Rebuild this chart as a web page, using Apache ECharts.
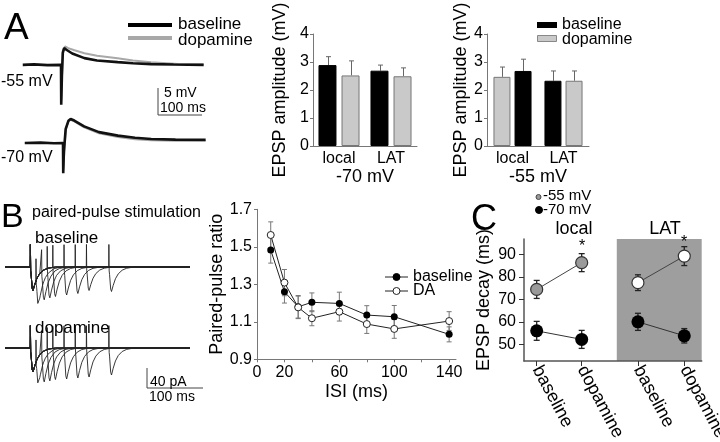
<!DOCTYPE html>
<html><head><meta charset="utf-8">
<script src="https://cdn.jsdelivr.net/npm/echarts@6/dist/echarts.min.js"></script>
<style>html,body{margin:0;padding:0;background:#fff}#c{width:720px;height:442px}</style>
</head><body><div id="c"></div>
<script>
// ---------- Panel A: example EPSP traces (keypoints: [ms, mV]) ----------
const traceA55Base = [[-85,0],[-60,0.08],[-30,-0.05],[0,0],[0.5,-7.4],[2,-2],[4,2.2],[7,3.1],[12,2.8],[25,2.1],[52,1.24],[80,0.8],[126,0.5],[160,0.3],[200,0.13],[250,0.05],[317,0]];
const traceA55DA   = [[0,0],[0.5,-6.5],[4,2.6],[9,3.4],[16,3.1],[30,2.7],[52,2.16],[80,1.7],[126,1.2],[160,0.8],[200,0.5],[260,0.15],[317,0.05]];
const traceA70Base = [[-85,0],[-50,0.05],[-20,-0.05],[0,0],[0.5,-5.6],[2,-1.5],[6,2.6],[12,4.1],[17,4.44],[25,4.15],[47,3.07],[80,2.0],[122,1.35],[160,0.95],[196,0.74],[250,0.62],[317,0.6]];
const traceA70DA   = [[0,0],[0.5,-5],[6,2.4],[12,4.0],[17,4.3],[25,4.0],[47,2.9],[80,1.8],[122,1.1],[160,0.7],[196,0.5],[250,0.4],[317,0.35]];

// ---------- Panel A: EPSP amplitude bars ----------
const ampCats = ['local', 'LAT'];
const amp70Base = [2.89, 2.69];
const amp70BaseErr = [0.30, 0.20];
const amp70DA = [2.52, 2.49];
const amp70DAErr = [0.52, 0.30];
const amp55DA = [2.47, 2.33];
const amp55DAErr = [0.35, 0.35];
const amp55Base = [2.68, 2.33];
const amp55BaseErr = [0.42, 0.35];
const ampTicks = [0, 1, 2, 3, 4];

// ---------- Panel B: paired-pulse EPSC sweeps ----------
const isi = [10, 20, 30, 40, 60, 80, 100, 140];
const epscShape = [[0,0],[1.5,-0.3],[3.5,-0.9],[5,-1],[8,-0.75],[12,-0.48],[17,-0.28],[24,-0.13],[32,-0.05],[45,0]];
const artShape = [[0,0],[0.3,1],[0.8,0]];
const artHeight = 48;          // pA
const sweepBase1 = 47;         // first EPSC, pA
const sweepBase2 = [59, 60, 60, 59, 56, 53, 47, 49];
const sweepDA1 = 48;
const sweepDA2 = [55, 62, 64, 63, 62, 60, 58, 54];

// ---------- Panel B: paired-pulse ratio ----------
const pprBase = [1.483, 1.26, 1.18, 1.204, 1.198, 1.136, 1.127, 1.033];
const pprBaseErr = [0.07, 0.06, 0.06, 0.05, 0.06, 0.05, 0.06, 0.04];
const pprDA = [1.563, 1.309, 1.177, 1.119, 1.154, 1.088, 1.062, 1.104];
const pprDAErr = [0.07, 0.07, 0.06, 0.04, 0.05, 0.05, 0.05, 0.05];
const isiLabelTicks = [0, 20, 60, 100, 140];
const isiTicks = [0, 20, 40, 60, 80, 100, 120, 140];
const pprTicks = [0.9, 1.1, 1.3, 1.5, 1.7];

// ---------- Panel C: EPSP decay ----------
const decayCats = ['baseline', 'dopamine', 'baseline', 'dopamine'];
const decayGroup = ['local', 'local', 'LAT', 'LAT'];
const decayPos = [1, 2, 3.25, 4.28];
const decay55 = [74.4, 86.3, 77.4, 89.2];
const decay55Err = [4.0, 4.0, 3.5, 4.2];
const decay70 = [56.0, 52.2, 60.0, 53.8];
const decay70Err = [4.2, 4.0, 3.8, 3.2];
const decayTicks = [50, 60, 70, 80, 90];
const latStart = 2.78;

// ================================================================
const FONT = "'Liberation Sans', Arial, Helvetica, sans-serif";
const chart = echarts.init(document.getElementById('c'), null, {renderer: 'canvas'});

function interp(shape, t) {
  if (t < shape[0][0] || t > shape[shape.length - 1][0]) return 0;
  for (let i = 1; i < shape.length; i++) {
    if (t <= shape[i][0]) {
      const [t0, v0] = shape[i - 1], [t1, v1] = shape[i];
      return t1 === t0 ? v1 : v0 + (v1 - v0) * (t - t0) / (t1 - t0);
    }
  }
  return 0;
}
function sweep(gap, a1, a2) {
  const ts = new Set([-45, 285]);
  [0, gap].forEach(o => { epscShape.forEach(p => ts.add(o + p[0])); artShape.forEach(p => ts.add(o + p[0])); });
  return Array.from(ts).sort((a, b) => a - b).map(t => [t,
    a1 * interp(epscShape, t) + a2 * interp(epscShape, t - gap) +
    artHeight * (interp(artShape, t) + interp(artShape, t - gap))]);
}

function txt(x, y, s, size, o) {
  o = o || {};
  return {type: 'text', x: x, y: y, z: 100, style: {
    text: s, fontSize: size, fontFamily: FONT, fontWeight: o.weight || 'normal', fill: o.fill || '#000',
    align: o.align || 'left', textAlign: o.align || 'left', verticalAlign: 'middle', textVerticalAlign: 'middle'}};
}
function ln(x1, y1, x2, y2, w, c) {
  return {type: 'line', z: 100, shape: {x1, y1, x2, y2}, style: {stroke: c || '#000', lineWidth: w || 1}};
}
function circ(cx, cy, r, fill, stroke, lw) {
  return {type: 'circle', z: 100, shape: {cx, cy, r}, style: {fill, stroke: stroke || fill, lineWidth: lw || 1}};
}

function barErr(offset, color) {
  return function (params, api) {
    const p = api.coord([api.value(0), api.value(1)]);
    const t = api.coord([api.value(0), api.value(1) + api.value(2)]);
    const x = Math.round(p[0] + offset) + 0.5;
    return {type: 'group', children: [
      {type: 'line', shape: {x1: x, y1: p[1], x2: x, y2: t[1]}, style: {stroke: color, lineWidth: 1}},
      {type: 'line', shape: {x1: x - 2.5, y1: t[1], x2: x + 2.5, y2: t[1]}, style: {stroke: color, lineWidth: 1}}
    ]};
  };
}
function symErr(cap, color, lw) {
  return function (params, api) {
    const lo = api.coord([api.value(0), api.value(1) - api.value(2)]);
    const hi = api.coord([api.value(0), api.value(1) + api.value(2)]);
    const x = lo[0];
    return {type: 'group', children: [
      {type: 'line', shape: {x1: x, y1: lo[1], x2: x, y2: hi[1]}, style: {stroke: color, lineWidth: lw}},
      {type: 'line', shape: {x1: x - cap, y1: lo[1], x2: x + cap, y2: lo[1]}, style: {stroke: color, lineWidth: lw}},
      {type: 'line', shape: {x1: x - cap, y1: hi[1], x2: x + cap, y2: hi[1]}, style: {stroke: color, lineWidth: lw}}
    ]};
  };
}

const G = (l, t, w, h) => ({left: l, top: t, width: w, height: h, containLabel: false, outerBoundsMode: 'none'});
const hiddenX = (gi, mn, mx) => ({type: 'value', gridIndex: gi, min: mn, max: mx, show: false});
const hiddenY = (gi, mn, mx) => ({type: 'value', gridIndex: gi, min: mn, max: mx, show: false});
const axLine = {show: true, lineStyle: {color: '#777', width: 1}};

function ampY(gi, gap) {
  return {type: 'value', gridIndex: gi, min: 0, max: 4,
    name: 'EPSP amplitude (mV)', nameLocation: 'middle', nameRotate: 90, nameGap: gap,
    nameTextStyle: {fontSize: 18, fontFamily: FONT, color: '#000'},
    axisLine: axLine, axisTick: {show: true, length: 3, lineStyle: {color: '#777'}, customValues: ampTicks},
    axisLabel: {fontSize: 16, fontFamily: FONT, color: '#000', margin: 4, customValues: ampTicks},
    splitLine: {show: false}};
}
function ampX(gi, name) {
  return {type: 'category', gridIndex: gi, data: ampCats,
    name: name, nameLocation: 'middle', nameGap: 22,
    nameTextStyle: {fontSize: 18, fontFamily: FONT, color: '#000'},
    axisLine: axLine, axisTick: {show: false},
    axisLabel: {fontSize: 16, fontFamily: FONT, color: '#000', margin: 5}};
}

const baseSweeps = isi.map((g, i) => sweep(g, sweepBase1, sweepBase2[i]));
const daSweeps = isi.map((g, i) => sweep(g, sweepDA1, sweepDA2[i]));

const series = [];
series.push({type: 'line', xAxisIndex: 0, yAxisIndex: 0, data: traceA55DA, showSymbol: false, silent: true, z: 2, lineStyle: {color: '#a8a8a8', width: 2}});
series.push({type: 'line', xAxisIndex: 0, yAxisIndex: 0, data: traceA55Base, showSymbol: false, silent: true, z: 3, lineStyle: {color: '#111', width: 2.6}});
series.push({type: 'line', xAxisIndex: 1, yAxisIndex: 1, data: traceA70DA, showSymbol: false, silent: true, z: 2, lineStyle: {color: '#a8a8a8', width: 2}});
series.push({type: 'line', xAxisIndex: 1, yAxisIndex: 1, data: traceA70Base, showSymbol: false, silent: true, z: 3, lineStyle: {color: '#111', width: 2.6}});
series.push({type: 'bar', xAxisIndex: 2, yAxisIndex: 2, data: amp70Base, barWidth: 18, barGap: '28%', itemStyle: {color: '#000', borderColor: '#000', borderWidth: 1}, z: 2});
series.push({type: 'bar', xAxisIndex: 2, yAxisIndex: 2, data: amp70DA, barWidth: 18, barGap: '28%', itemStyle: {color: '#c9c9c9', borderColor: '#777', borderWidth: 1}, z: 2});
series.push({type: 'custom', xAxisIndex: 2, yAxisIndex: 2, data: ampCats.map((c, i) => [i, amp70Base[i], amp70BaseErr[i]]), renderItem: barErr(-11.5, '#666'), z: 1});
series.push({type: 'custom', xAxisIndex: 2, yAxisIndex: 2, data: ampCats.map((c, i) => [i, amp70DA[i], amp70DAErr[i]]), renderItem: barErr(11.5, '#666'), z: 1});
series.push({type: 'bar', xAxisIndex: 3, yAxisIndex: 3, data: amp55DA.map((v, i) => ({value: v, itemStyle: i === 0 ? {color: '#c9c9c9', borderColor: '#777'} : {color: '#000', borderColor: '#000'}})), barWidth: 17, barGap: '24%', itemStyle: {borderWidth: 1}, z: 2});
series.push({type: 'bar', xAxisIndex: 3, yAxisIndex: 3, data: amp55Base.map((v, i) => ({value: v, itemStyle: i === 0 ? {color: '#000', borderColor: '#000'} : {color: '#c9c9c9', borderColor: '#777'}})), barWidth: 17, barGap: '24%', itemStyle: {borderWidth: 1}, z: 2});
series.push({type: 'custom', xAxisIndex: 3, yAxisIndex: 3, data: ampCats.map((c, i) => [i, amp55DA[i], amp55DAErr[i]]), renderItem: barErr(-10.5, '#666'), z: 1});
series.push({type: 'custom', xAxisIndex: 3, yAxisIndex: 3, data: ampCats.map((c, i) => [i, amp55Base[i], amp55BaseErr[i]]), renderItem: barErr(10.5, '#666'), z: 1});
baseSweeps.forEach(d => series.push({type: 'line', xAxisIndex: 4, yAxisIndex: 4, data: d, showSymbol: false, silent: true, lineStyle: {color: '#222', width: 0.9}}));
daSweeps.forEach(d => series.push({type: 'line', xAxisIndex: 5, yAxisIndex: 5, data: d, showSymbol: false, silent: true, lineStyle: {color: '#222', width: 0.9}}));
series.push({type: 'custom', xAxisIndex: 6, yAxisIndex: 6, data: isi.map((x, i) => [x, pprBase[i], pprBaseErr[i]]), renderItem: symErr(2.5, '#777', 1), z: 1});
series.push({type: 'custom', xAxisIndex: 6, yAxisIndex: 6, data: isi.map((x, i) => [x, pprDA[i], pprDAErr[i]]), renderItem: symErr(2.5, '#777', 1), z: 1});
series.push({type: 'line', xAxisIndex: 6, yAxisIndex: 6, data: isi.map((x, i) => [x, pprBase[i]]), symbol: 'circle', symbolSize: 7, lineStyle: {color: '#222', width: 1}, itemStyle: {color: '#000'}, z: 3});
series.push({type: 'line', xAxisIndex: 6, yAxisIndex: 6, data: isi.map((x, i) => [x, pprDA[i]]), symbol: 'circle', symbolSize: 7, lineStyle: {color: '#222', width: 1}, itemStyle: {color: '#fff', borderColor: '#222', borderWidth: 1}, z: 3});
function grp(arr, g) { return decayPos.map((p, i) => decayGroup[i] === g ? [p, arr[i]] : null).filter(Boolean); }
function grpErr(arr, err, g) { return decayPos.map((p, i) => decayGroup[i] === g ? [p, arr[i], err[i]] : null).filter(Boolean); }
series.push({type: 'custom', xAxisIndex: 7, yAxisIndex: 7, data: [], renderItem: () => null,
  markArea: {silent: true, itemStyle: {color: '#9e9e9e'}, data: [[{xAxis: latStart}, {xAxis: 4.667}]]}, z: 0});
['local', 'LAT'].forEach(g => {
  series.push({type: 'custom', xAxisIndex: 7, yAxisIndex: 7, data: grpErr(decay55, decay55Err, g), renderItem: symErr(3, '#222', 1.3), z: 2});
  series.push({type: 'custom', xAxisIndex: 7, yAxisIndex: 7, data: grpErr(decay70, decay70Err, g), renderItem: symErr(3, '#222', 1.3), z: 2});
  series.push({type: 'line', xAxisIndex: 7, yAxisIndex: 7, data: grp(decay55, g), symbol: 'circle', symbolSize: 12,
    lineStyle: {color: '#444', width: 1}, itemStyle: {color: g === 'local' ? '#9a9a9a' : '#fff', borderColor: '#333', borderWidth: 1.2}, z: 3});
  series.push({type: 'line', xAxisIndex: 7, yAxisIndex: 7, data: grp(decay70, g), symbol: 'circle', symbolSize: 13,
    lineStyle: {color: '#333', width: 1}, itemStyle: {color: '#000'}, z: 3});
});

const graphic = [
  txt(4, 29, 'A', 37),
  ln(128, 25, 172, 25, 4, '#000'), txt(178, 24, 'baseline', 17),
  ln(128, 38, 172, 38, 4, '#a8a8a8'), txt(178, 40, 'dopamine', 17),
  txt(1, 82, '-55 mV', 16), txt(1, 158, '-70 mV', 16),
  ln(158, 88, 158, 115, 1, '#444'), ln(158, 115, 202, 115, 1, '#444'),
  txt(164, 93, '5 mV', 14), txt(160, 108, '100 ms', 14),
  {type: 'rect', z: 100, shape: {x: 537, y: 22, width: 20, height: 6}, style: {fill: '#000'}},
  {type: 'rect', z: 100, shape: {x: 537.5, y: 35.5, width: 19, height: 6}, style: {fill: '#c9c9c9', stroke: '#888', lineWidth: 1}},
  txt(562, 25, 'baseline', 16), txt(562, 40, 'dopamine', 16),
  txt(1, 218, 'B', 34),
  txt(32, 213, 'paired-pulse stimulation', 16),
  txt(35, 238, 'baseline', 17), txt(35, 328, 'dopamine', 17),
  ln(147, 368, 147, 388, 1, '#444'), ln(147, 388, 203, 388, 1, '#444'),
  txt(150, 382, '40 pA', 14), txt(149, 397, '100 ms', 14),
  ln(385, 277, 408, 277, 1, '#222'), circ(396.5, 277, 3.5, '#000'), txt(413, 277, 'baseline', 16),
  ln(385, 291, 408, 291, 1, '#222'), circ(396.5, 291, 3.5, '#fff', '#222', 1), txt(413, 291, 'DA', 16),
  txt(471, 220, 'C', 36),
  circ(538.5, 197, 2.5, '#999', '#444', 1), txt(543, 196, '-55 mV', 15),
  circ(539, 210, 3.5, '#000'), txt(543, 210, '-70 mV', 15),
  txt(574, 229, 'local', 18, {align: 'center'}), txt(665, 229, 'LAT', 18, {align: 'center'}),
  txt(582, 247, '*', 16, {align: 'center'}), txt(684, 243, '*', 16, {align: 'center'})
];

const option = {
  animation: false,
  textStyle: {fontFamily: FONT},
  graphic: graphic,
  grid: [
    G(22.75, 40, 180.9, 70.2),
    G(24.75, 110, 180.9, 70.2),
    G(313, 34, 104, 112),
    G(487, 34, 102, 112),
    G(5, 235, 185, 75),
    G(5, 316, 185, 75),
    G(257, 209.3, 199, 150),
    G(524, 239, 177.7, 122)
  ],
  xAxis: [
    hiddenX(0, -85, 317), hiddenX(1, -85, 317),
    ampX(2, '-70 mV'), ampX(3, '-55 mV'),
    hiddenX(4, -45, 285), hiddenX(5, -45, 285),
    {type: 'value', gridIndex: 6, min: 0, max: 145, name: 'ISI (ms)', nameLocation: 'middle', nameGap: 24,
      nameTextStyle: {fontSize: 18, fontFamily: FONT, color: '#000'},
      axisLine: axLine, axisTick: {show: true, length: 3, lineStyle: {color: '#777'}, customValues: isiTicks},
      axisLabel: {fontSize: 16, fontFamily: FONT, color: '#000', margin: 5, customValues: isiLabelTicks},
      splitLine: {show: false}},
    {type: 'value', gridIndex: 7, min: 0.718, max: 4.667, z: 10,
      axisLine: {show: true, lineStyle: {color: '#555', width: 1.5}},
      axisTick: {show: true, length: 5, lineStyle: {color: '#333'}, customValues: decayPos},
      axisLabel: {fontSize: 18, fontFamily: FONT, color: '#000', rotate: -62, margin: 6, customValues: decayPos,
        formatter: v => decayCats[decayPos.indexOf(v)] || ''},
      splitLine: {show: false}}
  ],
  yAxis: [
    hiddenY(0, -8.4, 4.6), hiddenY(1, -6.9, 6.1),
    ampY(2, 24), ampY(3, 17),
    hiddenY(4, -86, 64), hiddenY(5, -86, 64),
    {type: 'value', gridIndex: 6, min: 0.9, max: 1.7, name: 'Paired-pulse ratio', nameLocation: 'middle', nameRotate: 90, nameGap: 30,
      nameTextStyle: {fontSize: 18, fontFamily: FONT, color: '#000'},
      axisLine: axLine, axisTick: {show: true, length: 3, lineStyle: {color: '#777'}, customValues: pprTicks},
      axisLabel: {fontSize: 16, fontFamily: FONT, color: '#000', margin: 5, customValues: pprTicks, formatter: v => v.toFixed(1)},
      splitLine: {show: false}},
    {type: 'value', gridIndex: 7, min: 42.6, max: 96.8, name: 'EPSP decay (ms)', nameLocation: 'middle', nameRotate: 90, nameGap: 31,
      z: 10,
      nameTextStyle: {fontSize: 18, fontFamily: FONT, color: '#000'},
      axisLine: {show: true, lineStyle: {color: '#555', width: 1.5}},
      axisTick: {show: true, length: 5, lineStyle: {color: '#333'}, customValues: decayTicks},
      axisLabel: {fontSize: 16, fontFamily: FONT, color: '#000', margin: 8, customValues: decayTicks},
      splitLine: {show: false}}
  ],
  series: series
};
chart.setOption(option);
</script>
</body></html>
